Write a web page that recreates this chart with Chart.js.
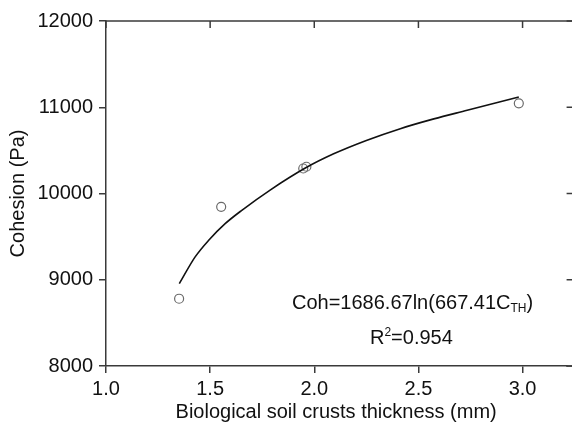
<!DOCTYPE html>
<html>
<head>
<meta charset="utf-8">
<script src="https://cdn.jsdelivr.net/npm/chart.js@4.4.1/dist/chart.umd.min.js"></script>
<style>
  html, body { margin: 0; padding: 0; background: #fff; }
  #wrap { width: 572px; height: 424px; }
</style>
</head>
<body>
<div id="wrap"><canvas id="c" width="572" height="424"></canvas></div>
<script>
// Measured points
const thickness = [1.351, 1.553, 1.947, 1.962, 2.982];
const cohesion  = [8780, 9845, 10290, 10310, 11045];

// Fitted curve, points
const fitX = [1.352, 1.428, 1.492, 1.572, 1.652, 1.788, 1.957, 2.093, 2.250, 2.413, 2.574, 2.734, 2.982];
const fitY = [8955, 9265, 9455, 9650, 9805, 10040, 10295, 10460, 10615, 10752, 10865, 10965, 11120];

// Tick labels
const xTicks = [1.0, 1.5, 2.0, 2.5, 3.0];
const yTicks = [8000, 9000, 10000, 11000, 12000];
const xFrameEnd = 3.245; // right frame of the plot box (just beyond the picture edge)

const xTitle = 'Biological soil crusts thickness (mm)';
const yTitle = 'Cohesion (Pa)';

const AXIS = '#3a3a3a';
const TEXT = '#111111';
const FONT = 'Liberation Sans, Arial, sans-serif';

const framePlugin = {
  id: 'frame',
  afterDraw(chart) {
    const ctx = chart.ctx;
    const a = chart.chartArea;
    const xs = chart.scales.x, ys = chart.scales.y;
    const right = xs.getPixelForValue(xFrameEnd);
    ctx.save();
    ctx.strokeStyle = AXIS;
    ctx.lineWidth = 1.5;
    ctx.beginPath();
    ctx.moveTo(a.left, a.top);
    ctx.lineTo(right, a.top);
    ctx.stroke();
    ctx.beginPath();
    ctx.moveTo(a.right, a.bottom);
    ctx.lineTo(right, a.bottom);
    ctx.stroke();
    ctx.beginPath();
    ctx.moveTo(right, a.top);
    ctx.lineTo(right, a.bottom);
    ctx.stroke();
    xTicks.forEach(v => {
      const px = xs.getPixelForValue(v);
      ctx.beginPath();
      ctx.moveTo(px, a.top);
      ctx.lineTo(px, a.top + 7);
      ctx.stroke();
    });
    yTicks.forEach(v => {
      const py = ys.getPixelForValue(v);
      ctx.beginPath();
      ctx.moveTo(right, py);
      ctx.lineTo(right - 7, py);
      ctx.stroke();
    });
    ctx.fillStyle = TEXT;
    ctx.textBaseline = 'alphabetic';
    ctx.textAlign = 'left';
    ctx.font = '20px ' + FONT;
    const s1 = 'Coh=1686.67ln(667.41C';
    let x = 292, y = 308.5;
    ctx.fillText(s1, x, y);
    x += ctx.measureText(s1).width;
    ctx.font = '12px ' + FONT;
    ctx.fillText('TH', x, y + 3);
    x += ctx.measureText('TH').width;
    ctx.font = '20px ' + FONT;
    ctx.fillText(')', x, y);
    x = 370; y = 344;
    ctx.fillText('R', x, y);
    x += ctx.measureText('R').width;
    ctx.font = '12px ' + FONT;
    ctx.fillText('2', x, y - 8);
    x += ctx.measureText('2').width;
    ctx.font = '20px ' + FONT;
    ctx.fillText('=0.954', x, y);
    ctx.restore();
  }
};

new Chart(document.getElementById('c'), {
  type: 'scatter',
  data: {
    datasets: [
      {
        label: 'fit',
        data: fitX.map((v, i) => ({ x: v, y: fitY[i] })),
        showLine: true,
        borderColor: '#111',
        borderWidth: 1.6,
        pointRadius: 0,
        cubicInterpolationMode: 'monotone',
        fill: false
      },
      {
        label: 'data',
        data: thickness.map((v, i) => ({ x: v, y: cohesion[i] })),
        showLine: false,
        pointRadius: 4.5,
        pointStyle: 'circle',
        borderColor: '#6a6a6a',
        borderWidth: 1.2,
        backgroundColor: 'rgba(0,0,0,0)'
      }
    ]
  },
  options: {
    responsive: false,
    animation: false,
    events: [],
    layout: { padding: { top: 21, right: 0, left: 0, bottom: 0 } },
    plugins: { legend: { display: false }, tooltip: { enabled: false } },
    scales: {
      x: {
        type: 'linear',
        min: 1.0,
        max: 3.21,
        afterBuildTicks: s => { s.ticks = xTicks.map(v => ({ value: v })); },
        afterFit: s => { s.height = 58; },
        ticks: {
          callback: v => Number(v).toFixed(1),
          font: { family: FONT, size: 20 },
          color: TEXT,
          padding: 4,
          maxRotation: 0,
          autoSkip: false
        },
        grid: { drawOnChartArea: false, drawTicks: true, tickLength: 7, color: AXIS, lineWidth: 1.5 },
        border: { display: true, color: AXIS, width: 1.5 },
        title: {
          display: true,
          text: xTitle,
          font: { family: FONT, size: 20 },
          color: TEXT,
          padding: { top: 0, bottom: 0 }
        }
      },
      y: {
        type: 'linear',
        min: 8000,
        max: 12000,
        afterBuildTicks: s => { s.ticks = yTicks.map(v => ({ value: v })); },
        afterFit: s => { s.width = 106; },
        ticks: {
          callback: v => String(v),
          font: { family: FONT, size: 20 },
          color: TEXT,
          padding: 6
        },
        grid: { drawOnChartArea: false, drawTicks: true, tickLength: 7, color: AXIS, lineWidth: 1.5 },
        border: { display: true, color: AXIS, width: 1.5 },
        title: {
          display: true,
          text: yTitle,
          font: { family: FONT, size: 20 },
          color: TEXT,
          padding: { top: 6, bottom: 0 }
        }
      }
    }
  },
  plugins: [framePlugin]
});
</script>
</body>
</html>
